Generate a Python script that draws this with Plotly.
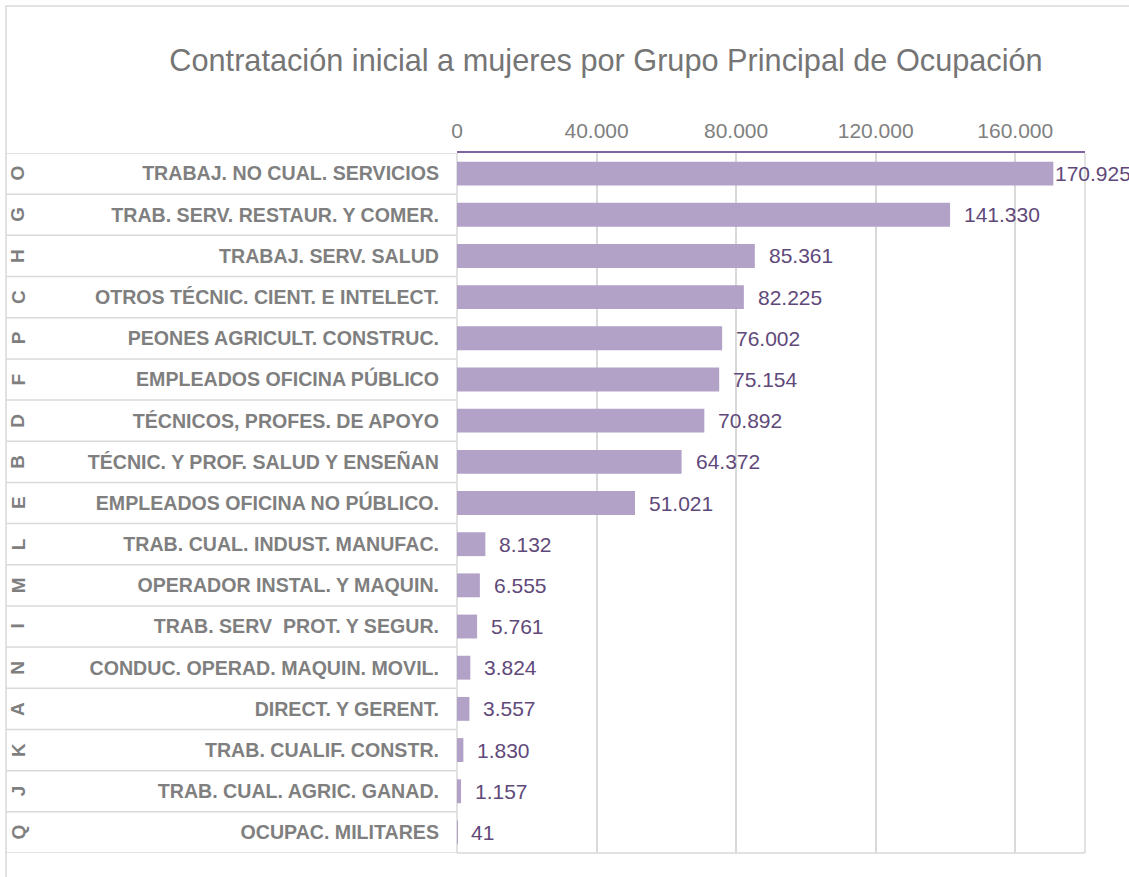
import plotly.graph_objects as go

# Occupation group codes, names and initial hires of women
codes = ["O", "G", "H", "C", "P", "F", "D", "B", "E", "L", "M", "I", "N", "A", "K", "J", "Q"]
groups = [
    "TRABAJ. NO CUAL. SERVICIOS",
    "TRAB. SERV. RESTAUR. Y COMER.",
    "TRABAJ. SERV. SALUD",
    "OTROS TÉCNIC. CIENT. E INTELECT.",
    "PEONES AGRICULT. CONSTRUC.",
    "EMPLEADOS OFICINA PÚBLICO",
    "TÉCNICOS, PROFES. DE APOYO",
    "TÉCNIC. Y PROF. SALUD Y ENSEÑAN",
    "EMPLEADOS OFICINA NO PÚBLICO.",
    "TRAB. CUAL. INDUST. MANUFAC.",
    "OPERADOR INSTAL. Y MAQUIN.",
    "TRAB. SERV  PROT. Y SEGUR.",
    "CONDUC. OPERAD. MAQUIN. MOVIL.",
    "DIRECT. Y GERENT.",
    "TRAB. CUALIF. CONSTR.",
    "TRAB. CUAL. AGRIC. GANAD.",
    "OCUPAC. MILITARES",
]
hires = [170925, 141330, 85361, 82225, 76002, 75154, 70892, 64372, 51021,
         8132, 6555, 5761, 3824, 3557, 1830, 1157, 41]
tick_values = [0, 40000, 80000, 120000, 160000]
x_max = 180000

FONT = "Arial, 'Liberation Sans', sans-serif"
GRID = "#d9d9d9"
LABEL_GRAY = "#7f7f7f"
BAR = "#b3a2c7"
VALUE_COLOR = "#5f497a"

W, H = 1129, 877
L, R, T, B = 457, 44, 153, 24
plot_w = W - L - R
plot_h = H - T - B


def px_x(px):
    return (px - L) / plot_w


def px_y(py):
    return (H - B - py) / plot_h


fig = go.Figure(
    go.Bar(
        x=hires,
        y=groups,
        orientation="h",
        marker=dict(color=BAR, line=dict(width=0)),
        width=0.58,
        hoverinfo="x+y",
    )
)

n = len(groups)

# value labels beside each bar
annotations = []
for g, v in zip(groups, hires):
    shift = 0 if v > 0.9 * x_max else 12
    annotations.append(dict(
        x=v, y=g, xref="x", yref="y", text=f"{v:,}".replace(",", "."),
        showarrow=False, xanchor="left", yanchor="middle", xshift=shift,
        font=dict(family=FONT, size=21, color=VALUE_COLOR),
    ))

# outer category (group code), rotated
for g, c in zip(groups, codes):
    annotations.append(dict(
        x=px_x(18), y=g, xref="paper", yref="y", text=c, showarrow=False,
        xanchor="center", yanchor="middle", textangle=-90,
        font=dict(family=FONT, size=19, color=LABEL_GRAY, weight="bold"),
    ))

shapes = []
# chart frame
shapes.append(dict(type="rect", xref="paper", yref="paper",
                   x0=px_x(6), x1=px_x(W + 20), y0=px_y(H + 20), y1=px_y(6),
                   line=dict(color=GRID, width=1.5), layer="below"))
# row separators in the category label area
for k in range(n + 1):
    shapes.append(dict(type="line", xref="paper", yref="y",
                       x0=px_x(6), x1=0, y0=k - 0.5, y1=k - 0.5,
                       line=dict(color=GRID, width=1.5), layer="below"))
# plot area border (bottom and right) and left edge
shapes.append(dict(type="line", xref="paper", yref="paper", x0=0, x1=1, y0=0, y1=0,
                   line=dict(color=GRID, width=1.5), layer="below"))
shapes.append(dict(type="line", xref="paper", yref="paper", x0=1, x1=1, y0=0, y1=1,
                   line=dict(color=GRID, width=1.5), layer="below"))
shapes.append(dict(type="line", xref="paper", yref="paper", x0=0, x1=0, y0=0, y1=1,
                   line=dict(color=GRID, width=1.5), layer="below"))

fig.update_layout(
    width=W, height=H,
    margin=dict(l=L, r=R, t=T, b=B),
    paper_bgcolor="white", plot_bgcolor="white",
    separators=",.",
    showlegend=False,
    title=dict(
        text="Contratación inicial a mujeres por Grupo Principal de Ocupación",
        x=606 / W, xref="container", xanchor="center",
        y=1 - 60 / H, yref="container", yanchor="middle",
        font=dict(family=FONT, size=30.7, color="#757575"),
    ),
    xaxis=dict(
        side="top", range=[0, x_max], tickvals=tick_values,
        tickformat=",d", showgrid=True, gridcolor=GRID, gridwidth=1.5,
        zeroline=False, showline=True, linecolor="#8064a2", linewidth=1.5,
        ticks="", ticklabelstandoff=5,
        tickfont=dict(family=FONT, size=21, color="#808080"),
        fixedrange=True,
    ),
    yaxis=dict(
        autorange=False, range=[n - 0.5, -0.5], showgrid=False, zeroline=False,
        showline=False, ticks="", ticklabelstandoff=17,
        tickfont=dict(family=FONT, size=19.6, color=LABEL_GRAY, weight="bold"),
        fixedrange=True,
    ),
    annotations=annotations,
    shapes=shapes,
)

fig.write_html("out.html")
